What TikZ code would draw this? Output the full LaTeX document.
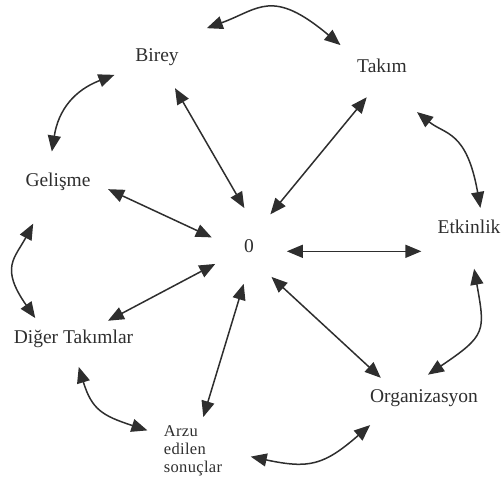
\documentclass[tikz,border=0pt]{standalone}
\usepackage{fontspec}
\setmainfont{Liberation Serif}
\usetikzlibrary{arrows.meta}
\definecolor{ink}{HTML}{2E2E2E}

\begin{document}
\begin{tikzpicture}[x=1pt,y=1pt]
    \tikzset{every node/.style={text=ink, font=\fontsize{19.5}{23}\selectfont},
        term/.style={inner sep=2pt, text height=13pt, text depth=4pt},
        link/.style={draw=ink, line width=1.5pt,
            {Triangle[length=16pt,width=13pt]}-{Triangle[length=16pt,width=13pt]}}}
    \useasboundingbox (0,0) rectangle (503,480);
    % hub
    \node[circle, minimum size=76pt, inner sep=0pt] (zero) at (249,234) {0};
    % ring
    \node[term] (birey) at (157,423) {Birey};
    \node[term] (takim) at (382,412) {Takım};
    \node[term] (etkinlik) at (469,251) {Etkinlik};
    \node[term] (org) at (424,82) {Organizasyon};
    \node[align=left, inner sep=2pt,
        font=\fontsize{16.5}{17.7}\selectfont\addfontfeatures{LetterSpace=2}] (arzu) at (193,29) {Arzu\\edilen\\sonuçlar};
    \node[term] (diger) at (73.5,141) {Diğer Takımlar};
    \node[term] (gelisme) at (58,298) {Gelişme};
    % spokes
    \draw[link, shorten <=36pt] (birey.center) -- (zero.97);
    \draw[link, shorten <=24pt] (takim.south) -- (zero.56);
    \draw[link, shorten <=17pt] (gelisme.east) -- (zero.167);
    \draw[link, shorten >=14pt] (zero.352) -- (zero.352 -| etkinlik.west);
    \draw[link, shorten <=39pt] (diger.center) -- (zero.208);
    \draw[link, shorten <=35.5pt] (arzu.center) -- (zero.262);
    \draw[link, shorten <=14pt] (org.162) -- (zero.306);
    % rim
    \draw[link, shorten <=53pt, shorten >=19pt] (birey.north) to[out=20, in=140, looseness=1.4] (takim.north west);
    \draw[link, shorten <=53pt, shorten >=10.5pt] (takim.240) to[out=-39, in=100, looseness=1.3] (etkinlik.39);
    \draw[link, shorten <=29.5pt, shorten >=22.5pt] (etkinlik.south) to[out=-80, in=34, looseness=1.5] (org.144);
    \draw[link, shorten <=25pt, shorten >=27pt] (org.197) to[out=221, in=-12, looseness=1.3] (arzu.east);
    \draw[link, shorten <=18pt, shorten >=15pt] (diger.south) to[out=-73, in=162, looseness=1.3] (arzu.153);
    \draw[link, shorten <=35pt, shorten >=12.5pt] (gelisme.232) to[out=242, in=125, looseness=1.4] (diger.161);
    \draw[link, shorten <=20pt, shorten >=20pt] (gelisme.131) to[out=81, in=201, looseness=1.2] (birey.south west);
\end{tikzpicture}
\end{document}
